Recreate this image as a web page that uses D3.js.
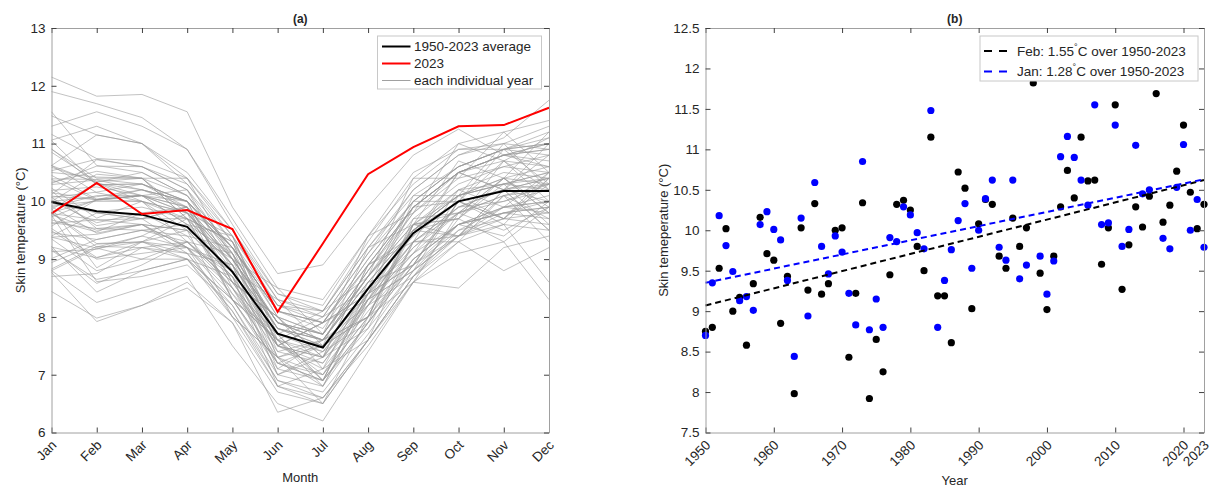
<!DOCTYPE html>
<html lang="en">
<head>
<meta charset="utf-8">
<title>Skin temperature</title>
<script src="https://d3js.org/d3.v7.min.js"></script>
<style type="text/css">
    body { margin: 0; background: #fff; }
    text { font-family: "Liberation Sans", Arial, sans-serif; fill: #262626; }
</style>
</head>
<body>
<script>
// ---- data ----
var months = ["Jan", "Feb", "Mar", "Apr", "May", "Jun", "Jul", "Aug", "Sep", "Oct", "Nov", "Dec"];
var avgTemps = [9.99, 9.83, 9.77, 9.56, 8.78, 7.71, 7.47, 8.49, 9.45, 10.0, 10.18, 10.18];
var temps2023 = [9.79, 10.32, 9.78, 9.85, 9.52, 8.09, 9.27, 10.47, 10.94, 11.30, 11.32, 11.62];

var years = d3.range(1950, 2024);
// January (blue) and February (black) values for each year 1950-2023
var janTemps = [8.70, 9.35, 10.18, 9.81, 9.49, 9.13, 9.18, 9.01, 10.07, 10.23,
                10.01, 9.88, 9.38, 8.44, 10.15, 8.94, 10.59, 9.80, 9.46, 9.93,
                9.73, 9.22, 8.83, 10.85, 8.77, 9.15, 8.80, 9.91, 9.86, 10.29,
                10.19, 9.97, 9.77, 11.48, 8.80, 9.38, 9.76, 10.12, 10.33, 9.53,
                10.00, 10.39, 10.62, 9.79, 9.63, 10.62, 9.40, 9.57, 12.15, 9.68,
                9.21, 9.62, 10.91, 11.16, 10.90, 10.62, 10.31, 11.55, 10.07, 10.09,
                11.30, 9.80, 10.01, 11.05, 10.45, 10.50, 11.90, 9.90, 9.77, 10.53,
                11.06, 10.00, 10.38, 9.79];
var febTemps = [8.75, 8.80, 9.53, 10.02, 9.00, 9.17, 8.58, 9.34, 10.16, 9.71,
                9.63, 8.85, 9.43, 7.98, 10.03, 9.26, 10.33, 9.21, 9.34, 10.00,
                10.03, 8.43, 9.22, 10.34, 7.92, 8.65, 8.25, 9.45, 10.32, 10.37,
                10.25, 9.80, 9.50, 11.15, 9.19, 9.19, 8.61, 10.72, 10.52, 9.03,
                10.08, 10.38, 10.32, 9.68, 9.53, 10.15, 9.80, 10.03, 11.82, 9.47,
                9.02, 9.68, 10.29, 10.74, 10.40, 11.15, 10.61, 10.62, 9.58, 10.03,
                11.55, 9.27, 9.82, 10.29, 10.04, 10.42, 11.69, 10.10, 10.31, 10.73,
                11.30, 10.47, 10.02, 10.32];
// Mar..Dec for each year 1950-2022 (2023 is temps2023)
var marToDec = [
    [9.2, 9.0, 8.3, 7.2, 6.9, 7.9, 8.9, 9.5, 9.7, 9.6],
    [9.0, 9.3, 8.6, 7.5, 7.1, 8.1, 9.0, 9.6, 9.8, 9.9],
    [9.6, 9.1, 8.9, 7.1, 7.6, 8.0, 9.6, 9.4, 10.1, 9.3],
    [10.1, 9.8, 8.9, 7.8, 7.5, 8.4, 9.2, 9.9, 10.0, 10.2],
    [9.1, 9.2, 8.4, 7.3, 7.0, 8.0, 8.9, 9.4, 9.9, 10.0],
    [9.4, 9.2, 8.0, 7.3, 6.8, 8.2, 8.7, 9.7, 9.3, 9.9],
    [8.9, 9.3, 8.5, 7.4, 7.2, 8.3, 9.1, 9.8, 10.1, 10.3],
    [9.5, 9.3, 9.1, 7.3, 7.6, 8.0, 9.5, 9.4, 10.2, 9.5],
    [10.3, 9.9, 8.9, 7.7, 7.4, 8.3, 9.3, 9.9, 10.2, 10.4],
    [10.0, 9.5, 9.0, 7.3, 7.5, 8.0, 9.6, 9.8, 10.4, 9.8],
    [9.8, 9.9, 9.0, 7.9, 7.6, 8.6, 9.5, 10.2, 10.3, 10.5],
    [9.3, 9.7, 8.4, 7.6, 7.0, 8.3, 8.8, 9.6, 9.4, 10.0],
    [9.6, 9.2, 8.3, 7.1, 6.9, 7.8, 8.8, 9.4, 9.7, 9.8],
    [8.2, 8.5, 7.9, 6.35, 6.6, 7.5, 8.6, 8.5, 9.2, 9.4],
    [10.1, 9.6, 9.1, 7.4, 7.6, 8.2, 9.5, 9.7, 10.3, 9.6],
    [9.3, 9.1, 8.2, 6.9, 6.6, 7.6, 8.7, 9.5, 9.9, 10.1],
    [10.5, 10.1, 9.2, 8.0, 7.7, 8.7, 9.6, 10.1, 10.3, 10.2],
    [9.4, 9.8, 8.3, 7.7, 6.9, 8.4, 8.9, 10.0, 9.7, 10.5],
    [9.5, 9.4, 8.5, 7.2, 6.9, 7.9, 9.0, 9.6, 9.8, 9.7],
    [10.0, 9.3, 8.7, 6.8, 7.1, 7.6, 9.3, 9.3, 10.1, 9.7],
    [10.2, 10.0, 8.6, 8.0, 7.1, 8.6, 8.9, 10.1, 9.7, 10.4],
    [8.8, 9.0, 8.3, 7.2, 7.0, 8.0, 9.0, 9.6, 9.9, 9.8],
    [9.2, 9.1, 8.1, 6.8, 6.5, 7.6, 8.6, 9.1, 9.3, 8.3],
    [10.4, 9.7, 9.3, 7.5, 7.9, 8.3, 9.6, 9.7, 10.4, 9.8],
    [8.2, 8.6, 7.9, 6.7, 6.5, 7.6, 8.7, 9.4, 9.8, 9.9],
    [8.8, 9.0, 8.1, 6.9, 6.7, 7.7, 8.8, 9.4, 9.6, 9.5],
    [8.5, 8.7, 7.5, 6.5, 6.2, 7.4, 8.6, 9.3, 8.8, 9.2],
    [9.6, 9.5, 8.7, 7.5, 7.2, 8.2, 9.1, 9.6, 9.9, 10.0],
    [10.1, 9.9, 8.3, 7.6, 6.8, 8.3, 8.8, 10.0, 9.6, 10.4],
    [10.2, 10.0, 9.1, 7.9, 7.6, 8.6, 9.5, 10.0, 10.2, 10.3],
    [10.1, 9.8, 8.8, 7.6, 7.3, 8.2, 9.2, 9.8, 10.1, 10.2],
    [9.7, 9.2, 8.8, 7.0, 7.3, 7.8, 9.3, 9.4, 10.2, 9.5],
    [9.6, 9.5, 8.7, 7.6, 7.4, 8.4, 9.3, 9.8, 10.0, 10.3],
    [11.0, 10.3, 9.3, 8.0, 7.7, 8.7, 9.5, 10.1, 10.3, 10.4],
    [9.3, 9.5, 8.0, 7.3, 6.5, 8.0, 8.6, 9.8, 9.5, 9.9],
    [9.0, 9.0, 8.0, 6.8, 6.6, 7.6, 8.7, 9.3, 9.6, 8.6],
    [8.7, 8.9, 8.2, 7.0, 6.8, 7.9, 8.9, 9.6, 9.8, 10.0],
    [10.6, 10.2, 9.1, 7.8, 7.5, 8.5, 9.4, 10.0, 10.2, 10.4],
    [10.4, 9.7, 9.3, 7.5, 7.9, 8.4, 9.9, 10.0, 10.7, 10.2],
    [9.2, 9.3, 8.6, 7.5, 7.3, 8.3, 9.3, 9.9, 10.2, 10.0],
    [10.2, 9.9, 9.0, 7.9, 7.6, 8.6, 9.5, 10.1, 10.3, 10.5],
    [10.3, 10.0, 8.5, 7.7, 6.9, 8.4, 8.9, 10.0, 9.7, 10.3],
    [10.0, 9.7, 8.9, 7.8, 7.6, 8.7, 9.6, 10.2, 10.5, 10.4],
    [9.6, 9.2, 8.9, 7.2, 7.5, 8.0, 9.7, 9.8, 10.4, 9.9],
    [9.5, 9.6, 8.8, 7.7, 7.5, 8.5, 9.5, 10.1, 10.4, 10.6],
    [10.0, 9.8, 9.0, 7.9, 7.7, 8.8, 9.8, 10.4, 10.6, 10.5],
    [9.7, 9.7, 8.3, 7.6, 6.9, 8.5, 9.1, 10.2, 9.9, 10.5],
    [10.1, 10.0, 9.2, 8.1, 7.9, 9.0, 10.0, 10.6, 10.9, 11.0],
    [11.85, 11.55, 9.9, 8.75, 8.9, 9.9, 10.8, 11.25, 10.8, 10.6],
    [9.8, 9.4, 9.2, 7.5, 7.9, 8.4, 10.0, 10.0, 10.9, 10.3],
    [9.3, 9.2, 8.5, 7.5, 7.3, 8.4, 9.5, 10.1, 10.4, 10.3],
    [9.7, 9.9, 8.6, 8.0, 7.3, 8.9, 9.4, 10.5, 10.2, 11.0],
    [10.3, 10.0, 9.2, 8.1, 7.8, 8.9, 9.9, 10.5, 10.8, 10.9],
    [10.7, 10.4, 9.5, 8.4, 8.1, 9.2, 10.1, 10.6, 10.9, 11.0],
    [10.4, 9.8, 9.4, 7.6, 8.0, 8.5, 10.1, 10.1, 11.0, 10.2],
    [11.0, 10.4, 9.4, 8.2, 7.9, 8.9, 9.9, 10.5, 10.8, 11.0],
    [10.6, 10.2, 9.3, 8.2, 8.0, 9.1, 10.0, 10.6, 10.9, 10.8],
    [10.5, 10.1, 9.0, 7.8, 7.6, 8.7, 9.8, 10.5, 10.8, 10.9],
    [9.7, 9.9, 8.6, 8.0, 7.3, 8.9, 9.3, 10.5, 10.2, 10.8],
    [10.0, 9.8, 9.0, 7.9, 7.7, 8.8, 9.9, 10.5, 10.8, 10.7],
    [11.3, 10.9, 9.7, 8.5, 8.3, 9.4, 10.3, 10.9, 11.0, 10.9],
    [9.3, 9.0, 8.7, 7.0, 7.4, 7.9, 9.6, 9.7, 10.7, 10.0],
    [9.9, 9.7, 8.9, 7.8, 7.6, 8.7, 9.7, 10.3, 10.6, 10.8],
    [10.3, 10.0, 9.1, 7.9, 7.7, 8.8, 9.9, 10.5, 10.7, 10.6],
    [10.1, 10.2, 8.8, 8.3, 7.5, 9.2, 9.6, 10.7, 10.4, 11.2],
    [10.4, 10.1, 9.2, 8.1, 7.9, 9.0, 10.0, 10.6, 10.9, 11.2],
    [11.45, 10.9, 9.6, 8.4, 8.2, 9.4, 10.5, 10.9, 10.9, 11.1],
    [10.1, 9.6, 9.4, 7.7, 8.1, 8.7, 10.4, 10.4, 11.2, 10.5],
    [10.2, 10.0, 9.2, 8.1, 7.9, 8.9, 9.9, 10.5, 10.8, 11.0],
    [10.6, 10.3, 9.4, 8.3, 8.0, 9.1, 10.2, 10.8, 11.0, 11.3],
    [11.0, 10.5, 9.5, 8.3, 8.1, 9.2, 10.2, 10.8, 11.1, 11.75],
    [10.4, 10.4, 9.0, 8.5, 7.7, 9.4, 9.8, 11.0, 10.7, 11.1],
    [10.1, 9.9, 9.2, 8.2, 8.1, 9.3, 10.4, 11.0, 11.2, 11.4]
];
// linear trend end values (1950, 2023)
var febTrend = [9.07, 10.62];
var janTrend = [9.35, 10.63];

var yTicksA = [6, 7, 8, 9, 10, 11, 12, 13];
var yTicksB = [7.5, 8, 8.5, 9, 9.5, 10, 10.5, 11, 11.5, 12, 12.5];
var xTicksB = [1950, 1960, 1970, 1980, 1990, 2000, 2010, 2020, 2023];

// ---- layout ----
var outerWidth = 1210;
var outerHeight = 487;
var plotTop = 28, plotBottom = 432.5;
var panelA = { left: 51.5, right: 549 };
var panelB = { left: 705.5, right: 1204 };
var axisGray = "#a0a0a0";
var fontSize = 13.5;

var svg = d3.select("body").append("svg")
    .attr("width", outerWidth)
    .attr("height", outerHeight);

function drawFrame(g, x, y, w, h, xTicks, yTicks, xFmt) {
    var bottomAxis = d3.axisBottom(x).tickValues(xTicks).tickSizeInner(-5).tickSizeOuter(0).tickFormat(xFmt);
    var bx = g.append("g").attr("transform", "translate(0," + h + ")").call(bottomAxis);
    bx.selectAll("text")
        .attr("x", 0).attr("y", 0).attr("dy", "0.35em")
        .attr("text-anchor", "end")
        .attr("transform", "translate(2,10) rotate(-45)");
    g.append("g").call(d3.axisTop(x).tickValues(xTicks).tickSizeInner(-5).tickSizeOuter(0).tickFormat(""));
    g.append("g").call(d3.axisLeft(y).tickValues(yTicks).tickSizeInner(-5).tickSizeOuter(0).tickPadding(6).tickFormat(function (d) { return d; }));
    g.append("g").attr("transform", "translate(" + w + ",0)")
        .call(d3.axisRight(y).tickValues(yTicks).tickSizeInner(-5).tickSizeOuter(0).tickFormat(""));
    g.selectAll(".domain").attr("stroke", axisGray);
    g.selectAll(".tick line").attr("stroke", "#404040");
    g.selectAll(".tick text").attr("font-size", fontSize).attr("fill", "#262626");
    g.selectAll("g").attr("font-family", null);
}

// ---- panel (a) ----
var wA = panelA.right - panelA.left, h = plotBottom - plotTop;
var gA = svg.append("g").attr("transform", "translate(" + panelA.left + "," + plotTop + ")");
var xA = d3.scalePoint().domain(months).range([0, wA]);
var yA = d3.scaleLinear().domain([6, 13]).range([h, 0]);

var rowsA = years.map(function (yr, i) {
    var rest = i < marToDec.length ? marToDec[i] : temps2023.slice(2);
    return [janTemps[i], febTemps[i]].concat(rest);
});
var lineA = d3.line().x(function (d, i) { return xA(months[i]); }).y(function (d) { return yA(d); });

gA.selectAll(".yr").data(rowsA).enter().append("path")
    .attr("d", lineA).attr("fill", "none").attr("stroke", "#999").attr("stroke-width", 0.6);
gA.append("path").attr("d", lineA(avgTemps)).attr("fill", "none").attr("stroke", "#000").attr("stroke-width", 2);
gA.append("path").attr("d", lineA(temps2023)).attr("fill", "none").attr("stroke", "#ff0000").attr("stroke-width", 2);

drawFrame(gA, xA, yA, wA, h, months, yTicksA, null);

gA.append("text").attr("x", wA / 2).attr("y", -5).attr("text-anchor", "middle")
    .attr("font-size", 12).attr("font-weight", "bold").text("(a)");
gA.append("text").attr("x", wA / 2).attr("y", 454).attr("text-anchor", "middle")
    .attr("font-size", 13).text("Month");
gA.append("text").attr("transform", "translate(" + (20 - panelA.left) + "," + (h / 2) + ") rotate(-90)")
    .attr("dy", "0.35em").attr("text-anchor", "middle").attr("font-size", 13).text("Skin temperature (°C)");

var legA = gA.append("g").attr("transform", "translate(" + (377.5 - panelA.left) + "," + (36 - plotTop) + ")");
legA.append("rect").attr("width", 164).attr("height", 53).attr("fill", "#fff").attr("stroke", "#c8c8c8");
var legAItems = [
    { label: "1950-2023 average", color: "#000", w: 2 },
    { label: "2023", color: "#ff0000", w: 2 },
    { label: "each individual year", color: "#a0a0a0", w: 1 }
];
legAItems.forEach(function (d, i) {
    var yy = 10.5 + i * 17;
    legA.append("line").attr("x1", 4.5).attr("x2", 33).attr("y1", yy).attr("y2", yy)
        .attr("stroke", d.color).attr("stroke-width", d.w);
    legA.append("text").attr("x", 36.5).attr("y", yy).attr("dy", "0.35em").attr("font-size", fontSize).text(d.label);
});

// ---- panel (b) ----
var wB = panelB.right - panelB.left;
var gB = svg.append("g").attr("transform", "translate(" + panelB.left + "," + plotTop + ")");
var xB = d3.scaleLinear().domain([1950, 2023]).range([0, wB]);
var yB = d3.scaleLinear().domain([7.5, 12.5]).range([h, 0]);

gB.selectAll(".feb").data(febTemps).enter().append("circle")
    .attr("cx", function (d, i) { return xB(years[i]); })
    .attr("cy", function (d) { return yB(d); })
    .attr("r", 3.6).attr("fill", "#000");
gB.selectAll(".jan").data(janTemps).enter().append("circle")
    .attr("cx", function (d, i) { return xB(years[i]); })
    .attr("cy", function (d) { return yB(d); })
    .attr("r", 3.6).attr("fill", "#0000ff");

gB.append("line").attr("x1", xB(1950)).attr("x2", xB(2023)).attr("y1", yB(febTrend[0])).attr("y2", yB(febTrend[1]))
    .attr("stroke", "#000").attr("stroke-width", 2).attr("stroke-dasharray", "6,4");
gB.append("line").attr("x1", xB(1950)).attr("x2", xB(2023)).attr("y1", yB(janTrend[0])).attr("y2", yB(janTrend[1]))
    .attr("stroke", "#0000ff").attr("stroke-width", 2).attr("stroke-dasharray", "6,4");

drawFrame(gB, xB, yB, wB, h, xTicksB, yTicksB, function (d) { return d; });

gB.append("text").attr("x", wB / 2).attr("y", -5).attr("text-anchor", "middle")
    .attr("font-size", 12).attr("font-weight", "bold").text("(b)");
gB.append("text").attr("x", wB / 2).attr("y", 457).attr("text-anchor", "middle")
    .attr("font-size", 13).text("Year");
gB.append("text").attr("transform", "translate(" + (663.5 - panelB.left) + "," + (h / 2) + ") rotate(-90)")
    .attr("dy", "0.35em").attr("text-anchor", "middle").attr("font-size", 13).text("Skin temeperature (°C)");

var legB = gB.append("g").attr("transform", "translate(" + (980 - panelB.left) + "," + (36 - plotTop) + ")");
legB.append("rect").attr("width", 218).attr("height", 45).attr("fill", "#fff").attr("stroke", "#c8c8c8");
var legBItems = [
    { month: "Feb", val: "1.55", color: "#000" },
    { month: "Jan", val: "1.28", color: "#0000ff" }
];
legBItems.forEach(function (d, i) {
    var yy = 15 + i * 20.5;
    legB.append("line").attr("x1", 4).attr("x2", 28).attr("y1", yy).attr("y2", yy)
        .attr("stroke", d.color).attr("stroke-width", 2).attr("stroke-dasharray", "8,7");
    var t = legB.append("text").attr("x", 37).attr("y", yy).attr("dy", "0.35em").attr("font-size", fontSize);
    t.append("tspan").text(d.month + ": " + d.val);
    t.append("tspan").attr("dy", -6).attr("font-size", 9).text("°");
    t.append("tspan").attr("dy", 6).text("C over 1950-2023");
});
</script>
</body>
</html>
